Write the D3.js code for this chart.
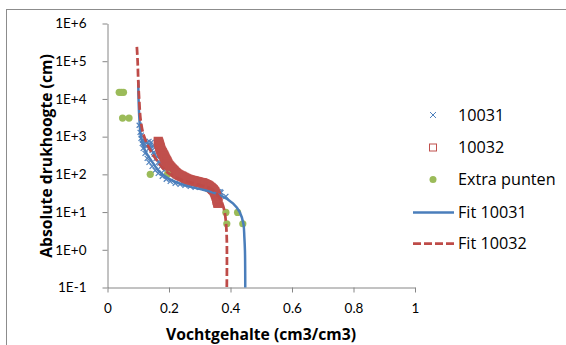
<!DOCTYPE html>
<html><head><meta charset="utf-8">
<script src="https://cdn.jsdelivr.net/npm/d3@7"></script>
<style>
html,body{margin:0;padding:0;background:#fff;}
svg{display:block;font-family:"Open Sans",Lato,sans-serif;}
</style></head>
<body>
<svg id="c" width="566" height="345"></svg>
<script>
// ---- data ----
const xTicks = [0, 0.2, 0.4, 0.6, 0.8, 1];
const xTickLabels = ["0", "0.2", "0.4", "0.6", "0.8", "1"];
const yTicks = [0.1, 1, 10, 100, 1000, 10000, 100000, 1000000];
const yTickLabels = ["1E-1", "1E+0", "1E+1", "1E+2", "1E+3", "1E+4", "1E+5", "1E+6"];
const seriesNames = ["10031", "10032", "Extra punten", "Fit 10031", "Fit 10032"];

// 10031 measured (theta, h)
const theta10031 = [0.103,0.106,0.109,0.113,0.116,0.122,0.129,0.135,0.145,0.155,0.165,0.178,0.191,0.204,0.220,0.236,0.252,0.269,0.285,0.301,0.317,0.334,0.347,0.360,0.366,0.369,0.385,
  0.116,0.122,0.129,0.135,0.142,0.126,0.135,0.145,0.152,0.158,0.165,0.174,0.184,0.139,0.148,0.119,0.132,0.140,0.150,0.160,0.170,0.110,0.114];
const h10031 = [2000,1300,900,665,490,360,265,208,163,128,106,89,74,65,58,54,51,48,45,45,43,40,38,35,35,33,26,
  800,750,705,750,705,550,490,433,340,265,208,163,128,590,550,650,600,520,380,300,200,1100,800];

// 10032 measured (theta, h)
const theta10032 = [0.165,0.166,0.167,0.168,0.169,0.170,0.171,0.172,0.173,0.174,0.176,0.178,0.179,0.181,0.183,0.184,0.186,0.187,0.189,0.191,0.193,0.194,0.196,0.197,0.200,0.202,0.205,0.207,0.210,0.212,0.215,0.217,0.219,0.221,0.224,0.226,0.229,0.232,0.235,0.239,0.242,0.245,0.249,0.252,0.255,0.258,0.262,0.265,0.268,0.271,0.275,0.278,0.281,0.284,0.288,0.291,0.294,0.297,0.301,0.304,0.307,0.309,0.312,0.314,0.317,0.319,0.322,0.324,0.327,0.329,0.331,0.333,0.336,0.338,0.340,0.342,0.344,0.346,0.348,0.349,0.350,0.351,0.352,0.353,0.354,0.355,0.356,0.356,0.357,0.358,0.359,0.359];
const h10032 = [750,705,665,625,588,555,520,490,460,430,405,380,360,340,320,300,283,265,250,235,221,208,195,184,173,165,156,148,140,134,128,122,116,112,108,104,100,97,94,91,89,86,83,80,78,76,74,72,71,70,69,68,67,66,65,64,63,62,61,60,60,59,58,57,56,54,53,52,51,49,48,46,45,43,42,40,39,37,35,34,32,30,29,27,26,24,23,21,20,19,18,17,16,15,14,13.3,12.6];

// Extra punten
const thetaExtra = [0.038, 0.045, 0.052, 0.049, 0.070, 0.139, 0.195, 0.385, 0.423, 0.388, 0.440];
const hExtra = [15000, 15000, 15000, 3100, 3100, 100, 100, 9.8, 9.8, 4.9, 4.9];

// Fit 10031
const thetaFit1 = [0.100,0.101,0.104,0.109,0.122,0.142,0.165,0.197,0.252,0.317,0.366,0.408,0.430,0.442,0.445,0.447,0.448];
const hFit1 = [31000,9800,2700,960,430,235,128,78,51,38,28,17,10,4.9,2.2,0.95,0.1];

// Fit 10032
const thetaFit2 = [0.0955,0.098,0.100,0.103,0.108,0.118,0.139,0.165,0.190,0.236,0.294,0.340,0.366,0.380,0.385,0.388,0.388];
const hFit2 = [240000,100000,31000,9800,2700,1070,440,210,120,74,54,40,23,11,5.4,1.8,0.1];

// ---- chart ----
const svg = d3.select("#c");
const zip = (a, b) => a.map((v, i) => [v, b[i]]);

svg.append("rect").attr("x", 6.5).attr("y", 9.5).attr("width", 600).attr("height", 400)
  .attr("fill", "#fff").attr("stroke", "#8c8c8c").attr("stroke-width", 1);

const x = d3.scaleLinear().domain([0, 1]).range([107.5, 415]);
const y = d3.scaleLog().domain([0.1, 1e6]).range([287.5, 23.5]);

const axisColor = "#868686";
const gx = svg.append("g").attr("transform", `translate(0,${y(0.1)})`)
  .call(d3.axisBottom(x).tickValues(xTicks).tickFormat((d, i) => xTickLabels[i]).tickSize(5).tickSizeOuter(0));
const gy = svg.append("g").attr("transform", `translate(${x(0)},0)`)
  .call(d3.axisLeft(y).tickValues(yTicks).tickFormat((d, i) => yTickLabels[i]).tickSize(5).tickSizeOuter(0));
[gx, gy].forEach(g => {
  g.select(".domain").attr("stroke", axisColor);
  g.selectAll(".tick line").attr("stroke", axisColor);
  g.selectAll(".tick text").attr("fill", "#000").attr("font-size", 13.5).attr("font-family", "Lato");
});
gx.selectAll(".tick text").attr("dy", "1.3em");
gy.selectAll(".tick text").attr("x", -21);

svg.append("text").attr("x", 261).attr("y", 340).attr("text-anchor", "middle")
  .attr("font-weight", "bold").attr("font-size", 15.7).text("Vochtgehalte (cm3/cm3)");
svg.append("text").attr("transform", "translate(52,156) rotate(-90)").attr("text-anchor", "middle")
  .attr("font-weight", "bold").attr("font-size", 15.7).text("Absolute drukhoogte (cm)");

const blue = "#4F81BD", red = "#C0504D", green = "#9BBB59";
const lineBlue = "#4A7EBB", lineRed = "#BE4B48";

// markers 10031 (x)
const xs = 2.5;
svg.append("g").selectAll("path").data(zip(theta10031, h10031)).join("path")
  .attr("d", d => { const cx = x(d[0]), cy = y(d[1]); return `M${cx-xs},${cy-xs}L${cx+xs},${cy+xs}M${cx-xs},${cy+xs}L${cx+xs},${cy-xs}`; })
  .attr("stroke", blue).attr("stroke-width", 1.2).attr("fill", "none");

// markers 10032 (squares)
const sq = 7;
svg.append("g").selectAll("rect").data(zip(theta10032, h10032)).join("rect")
  .attr("x", d => x(d[0]) - sq / 2).attr("y", d => y(d[1]) - sq / 2)
  .attr("width", sq).attr("height", sq).attr("fill", "none").attr("stroke", red).attr("stroke-width", 2.2);

// extra points
svg.append("g").selectAll("circle").data(zip(thetaExtra, hExtra)).join("circle")
  .attr("cx", d => x(d[0])).attr("cy", d => y(d[1])).attr("r", 3.6).attr("fill", green);

const line = d3.line().x(d => x(d[0])).y(d => y(d[1])).curve(d3.curveCatmullRom);
svg.append("path").attr("d", line(zip(thetaFit1, hFit1))).attr("fill", "none")
  .attr("stroke", lineBlue).attr("stroke-width", 2.5);
svg.append("path").attr("d", line(zip(thetaFit2, hFit2))).attr("fill", "none")
  .attr("stroke", lineRed).attr("stroke-width", 2.75).attr("stroke-dasharray", "8,3");

// legend
const lg = svg.append("g").attr("font-size", 16.2).attr("fill", "#000");
const rowY = [115, 147.5, 179.5, 212.5, 243.5];
const mx = 433, tx = 458;
lg.append("path").attr("d", `M${mx-3},${rowY[0]-3}L${mx+3},${rowY[0]+3}M${mx-3},${rowY[0]+3}L${mx+3},${rowY[0]-3}`)
  .attr("stroke", blue).attr("stroke-width", 1);
lg.append("rect").attr("x", mx - 3.5).attr("y", rowY[1] - 3.5).attr("width", 7).attr("height", 7)
  .attr("fill", "#fff").attr("stroke", red).attr("stroke-width", 1);
lg.append("circle").attr("cx", mx).attr("cy", rowY[2]).attr("r", 3.5).attr("fill", green);
lg.append("line").attr("x1", 413).attr("x2", 454).attr("y1", rowY[3]).attr("y2", rowY[3])
  .attr("stroke", lineBlue).attr("stroke-width", 2.5);
lg.append("line").attr("x1", 413).attr("x2", 454).attr("y1", rowY[4]).attr("y2", rowY[4])
  .attr("stroke", lineRed).attr("stroke-width", 2.75).attr("stroke-dasharray", "8,3");
seriesNames.forEach((n, i) => {
  lg.append("text").attr("x", tx).attr("y", rowY[i]).attr("dy", "0.35em").text(n);
});
</script>
</body></html>
